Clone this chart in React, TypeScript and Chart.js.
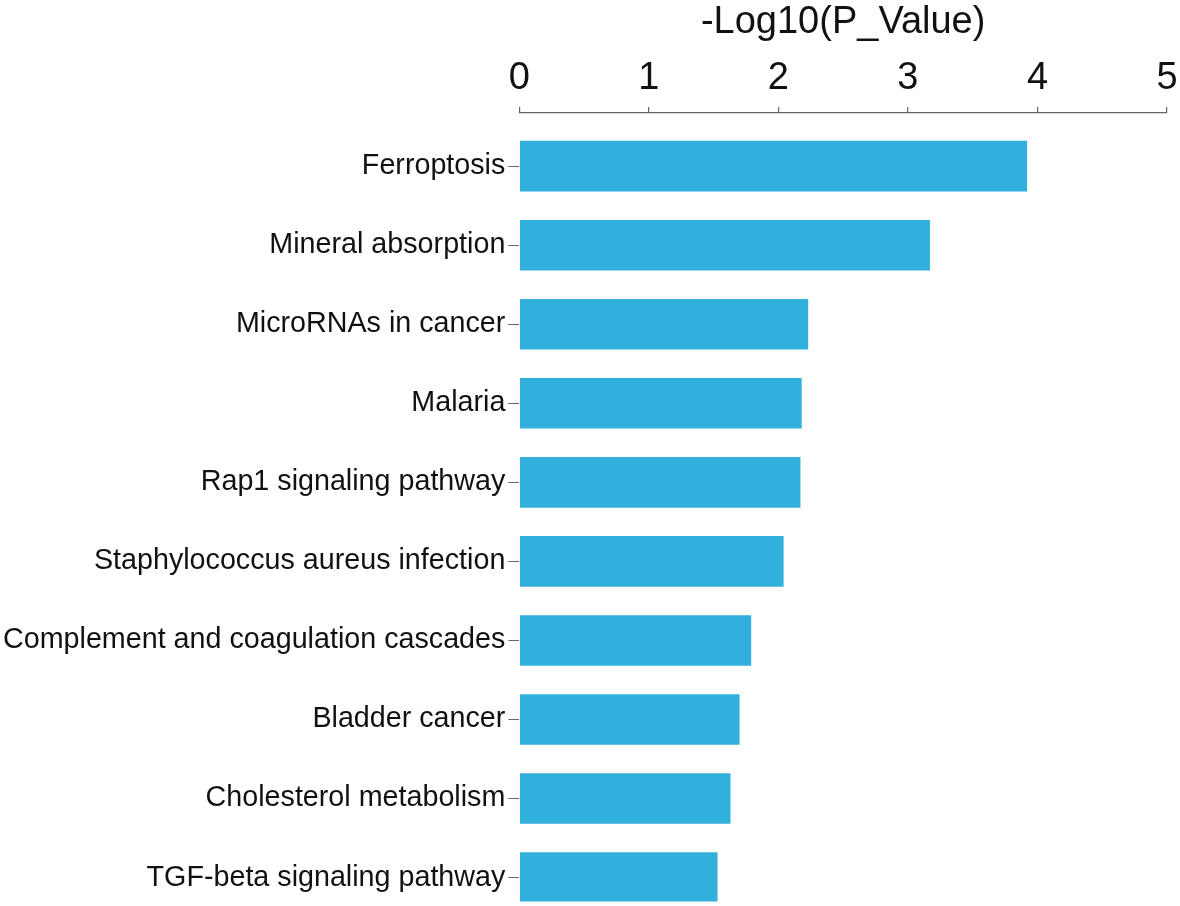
import React, { useEffect, useRef } from "react";
import { Chart, registerables } from "chart.js";

Chart.register(...registerables);

const categories: string[] = [
  "Ferroptosis",
  "Mineral absorption",
  "MicroRNAs in cancer",
  "Malaria",
  "Rap1 signaling pathway",
  "Staphylococcus aureus infection",
  "Complement and coagulation cascades",
  "Bladder cancer",
  "Cholesterol metabolism",
  "TGF-beta signaling pathway",
];

const negLog10P: number[] = [3.92, 3.17, 2.23, 2.18, 2.17, 2.04, 1.79, 1.7, 1.63, 1.53];

const xTicks: number[] = [0, 1, 2, 3, 4, 5];
const xTitle = "-Log10(P_Value)";

export default function App() {
  const canvasRef = useRef<HTMLCanvasElement | null>(null);

  useEffect(() => {
    const canvas = canvasRef.current;
    if (!canvas) return;
    const points = negLog10P.map((v, i) => ({ x: v, y: i }));
    const chart = new Chart(canvas, {
      type: "bar",
      data: {
        datasets: [
          {
            data: points as any,
            backgroundColor: "#32B0DD",
            borderWidth: 0,
            barPercentage: 0.64,
            categoryPercentage: 1,
          },
        ],
      },
      options: {
        indexAxis: "y",
        responsive: false,
        animation: false,
        layout: { padding: { left: 0, right: 13, top: 0, bottom: 0 } },
        plugins: {
          legend: { display: false },
          tooltip: { enabled: false },
        },
        scales: {
          x: {
            type: "linear",
            position: "top",
            min: xTicks[0],
            max: xTicks[xTicks.length - 1],
            afterBuildTicks: (scale: any) => {
              scale.ticks = xTicks.map((v) => ({ value: v }));
            },
            ticks: {
              font: { family: "'Liberation Sans', Arial, sans-serif", size: 38, lineHeight: 1.35 },
              color: "#111111",
              padding: 2.4,
            },
            grid: {
              drawOnChartArea: false,
              drawTicks: true,
              tickLength: 6,
              color: "#666666",
              lineWidth: 1.2,
            },
            border: { display: true, color: "#666666", width: 1.2 },
            title: {
              display: true,
              text: xTitle,
              font: { family: "'Liberation Sans', Arial, sans-serif", size: 38 },
              color: "#111111",
              padding: { top: 0, bottom: 5.3 },
            },
          },
          y: {
            type: "linear",
            reverse: true,
            offset: false,
            min: -0.672,
            max: 9.303,
            ticks: {
              stepSize: 1,
              includeBounds: false,
              autoSkip: false,
              font: { family: "'Liberation Sans', Arial, sans-serif", size: 28.7, lineHeight: 0.1 },
              color: "#111111",
              padding: 3,
              callback: (value: any) => {
                const i = Number(value);
                return Number.isInteger(i) && categories[i] !== undefined ? categories[i] : "";
              },
            },
            grid: {
              offset: false,
              drawOnChartArea: false,
              drawTicks: true,
              tickLength: 11,
              color: "#666666",
              lineWidth: 1,
            },
            border: { display: false },
          },
        },
      },
    });
    return () => chart.destroy();
  }, []);

  return (
    <div style={{ position: "absolute", left: 0, top: 0, width: 1180, height: 906, background: "#ffffff" }}>
      <canvas ref={canvasRef} width={1180} height={906} style={{ display: "block" }} />
    </div>
  );
}
